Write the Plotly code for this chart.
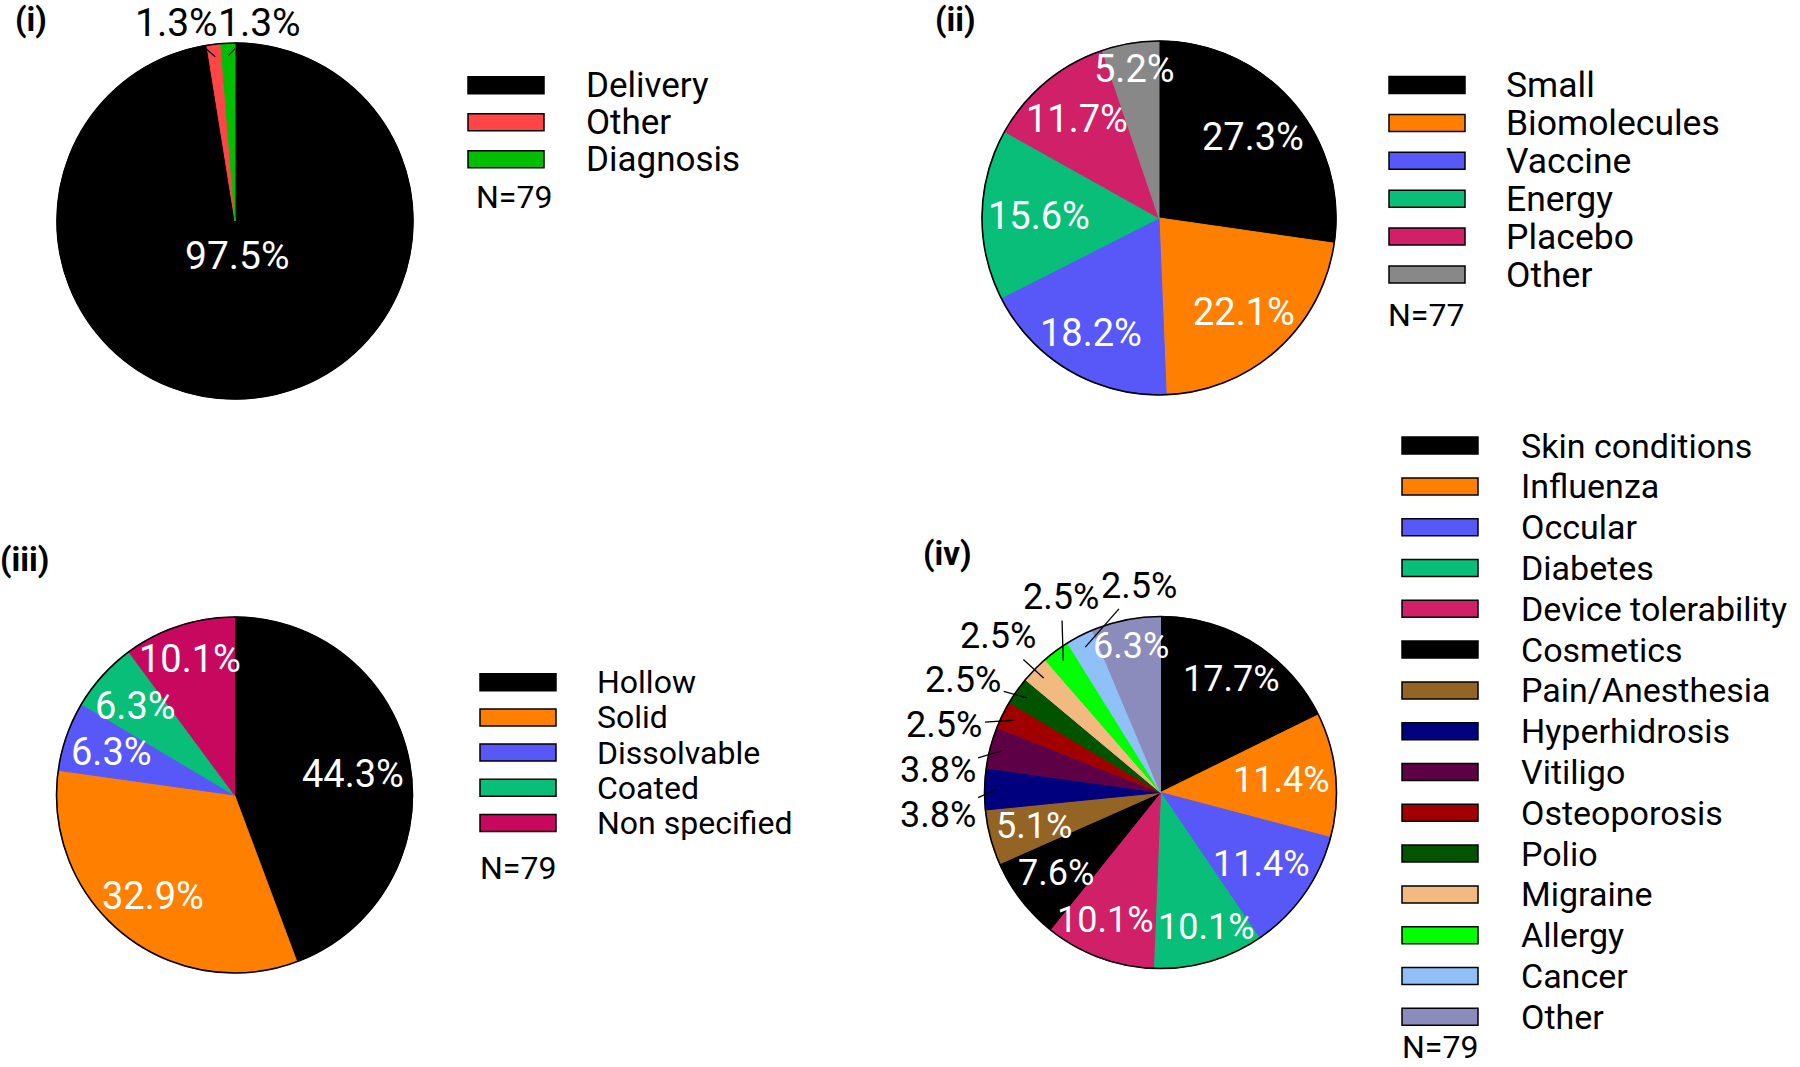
import math
import plotly.graph_objects as go

W, H = 1800, 1067
FONT = "Roboto"

# ---------------- data ----------------
cat_i = ["Delivery", "Other", "Diagnosis"]
val_i = [77, 1, 1]
n_i = "N=79"

cat_ii = ["Small", "Biomolecules", "Vaccine", "Energy", "Placebo", "Other"]
val_ii = [21, 17, 14, 12, 9, 4]
n_ii = "N=77"

cat_iii = ["Hollow", "Solid", "Dissolvable", "Coated", "Non specified"]
val_iii = [35, 26, 5, 5, 8]
n_iii = "N=79"

cat_iv = ["Skin conditions", "Influenza", "Occular", "Diabetes", "Device tolerability",
          "Cosmetics", "Pain/Anesthesia", "Hyperhidrosis", "Vitiligo", "Osteoporosis",
          "Polio", "Migraine", "Allergy", "Cancer", "Other"]
val_iv = [14, 9, 9, 8, 8, 6, 4, 3, 3, 2, 2, 2, 2, 2, 5]
n_iv = "N=79"

# ---------------- styles ----------------
col_i = ["#000000", "#FF4545", "#00BF00"]
col_ii = ["#000000", "#FF8000", "#5858F8", "#08BE78", "#D02068", "#888888"]
col_iii = ["#000000", "#FF8000", "#5858F8", "#08BE78", "#C8085F"]
col_iv = ["#000000", "#FF8000", "#5858F8", "#08BE78", "#D02068", "#000000", "#946424",
          "#00007F", "#5E0045", "#A00000", "#005400", "#F2BA80", "#00FF00", "#90C0F8", "#8C8CBC"]

# label placement: True = outside with leader line
out_i = [False, True, True]
out_ii = [False] * 6
out_iii = [False] * 5
out_iv = [False] * 7 + [True] * 7 + [False]

panels = [
    dict(tag="(i)", cats=cat_i, vals=val_i, cols=col_i, out=out_i, n=n_i,
         cx=235, cy=221, r=178, tagx=13, tagy=20, pfs=39,
         lx=468, ly=85.3, ldy=37, tx=584, fs=35, nx=474, ny=197),
    dict(tag="(ii)", cats=cat_ii, vals=val_ii, cols=col_ii, out=out_ii, n=n_ii,
         cx=1159, cy=218, r=177, tagx=933, tagy=20, pfs=38,
         lx=1389, ly=85, ldy=37.9, tx=1504, fs=35.5, nx=1386, ny=315),
    dict(tag="(iii)", cats=cat_iii, vals=val_iii, cols=col_iii, out=out_iii, n=n_iii,
         cx=234.5, cy=795, r=178, tagx=-2, tagy=559, pfs=38,
         lx=480, ly=682.2, ldy=35.2, tx=595, fs=32, nx=478, ny=868),
    dict(tag="(iv)", cats=cat_iv, vals=val_iv, cols=col_iv, out=out_iv, n=n_iv,
         cx=1160.5, cy=792.5, r=176, tagx=921, tagy=553, pfs=36,
         lx=1402, ly=445.6, ldy=40.8, tx=1519, fs=34, nx=1400, ny=1047),
]

SW_W, SW_H = 76, 17
IN_TARGET = 0.97   # inside labels: far edge of the text box at this fraction of the radius
IN_R_MAJOR = 0.2   # for slices larger than half the pie
ANCHOR_R = 0.93    # start of leader lines
PAD = 8
EM = {"%": 0.732, ".": 0.263}


def px(x):
    return x / W


def py(y):
    return 1 - y / H


def polar(cx, cy, rad, theta_deg):
    t = math.radians(theta_deg)
    return cx + rad * math.sin(t), cy - rad * math.cos(t)


def text_w(s, fs):
    return sum(EM.get(ch, 0.562) for ch in s) * fs


def text_radius(r, theta, w, h):
    t = math.radians(theta)
    return r + PAD + abs(math.sin(t)) * w / 2 + abs(math.cos(t)) * h / 2


def inside_radius(r, theta, w, h):
    t = math.radians(theta)
    return IN_TARGET * r - (abs(math.sin(t)) * w / 2 + abs(math.cos(t)) * h / 2)


def spread(thetas, r, w, h):
    pos = list(thetas)
    for _ in range(5000):
        moved = False
        for k in range(len(pos) - 1):
            m = math.radians((pos[k] + pos[k + 1]) / 2)
            c, s = abs(math.cos(m)), abs(math.sin(m))
            d = min(w / c if c > 1e-6 else 1e9, h / s if s > 1e-6 else 1e9)
            R = text_radius(r, math.degrees(m), w, h)
            need = math.degrees(d / R)
            gap = pos[k + 1] - pos[k]
            if gap < need - 1e-3:
                delta = (need - gap) / 2
                pos[k] -= delta
                pos[k + 1] += delta
                moved = True
        if not moved:
            break
    return pos


fig = go.Figure()
shapes = []
annotations = []

for p in panels:
    cx, cy, r = p["cx"], p["cy"], p["r"]
    dom = dict(x=[px(cx - r), px(cx + r)], y=[py(cy + r), py(cy - r)])
    fig.add_trace(go.Pie(
        labels=p["cats"], values=p["vals"], sort=False, direction="clockwise", rotation=0,
        marker=dict(colors=p["cols"], line=dict(color=p["cols"], width=1)),
        textinfo="none", domain=dom, showlegend=False, automargin=False,
        hovertemplate="%{label}: %{value} (%{percent:.1%})<extra></extra>",
    ))
    fig.add_trace(go.Pie(
        labels=["outline"], values=[1], sort=False,
        marker=dict(colors=["rgba(0,0,0,0)"], line=dict(color="black", width=1.6)),
        textinfo="none", domain=dom, showlegend=False, hoverinfo="skip", automargin=False,
    ))

    # ----- percentage labels, placed from the slice angles -----
    total = float(sum(p["vals"]))
    cum = 0.0
    mids, fracs = [], []
    for v in p["vals"]:
        fracs.append(v / total)
        mids.append(360.0 * (cum + v / 2.0) / total)
        cum += v
    fsz = p["pfs"]
    labels = ["%.1f%%" % (100 * f) for f in fracs]

    # inside labels
    in_idx = [k for k, o in enumerate(p["out"]) if not o]
    ang = {k: mids[k] for k in in_idx}
    hh = 0.75 * fsz

    def in_pos(k):
        if fracs[k] > 0.5:
            return polar(cx, cy, IN_R_MAJOR * r, ang[k])
        return polar(cx, cy, inside_radius(r, ang[k], text_w(labels[k], fsz), hh), ang[k])

    for _ in range(400):
        moved = False
        for a, b in zip(in_idx[:-1], in_idx[1:]):
            (xa, ya), (xb, yb) = in_pos(a), in_pos(b)
            need_x = (text_w(labels[a], fsz) + text_w(labels[b], fsz)) / 2 + 4
            if abs(xa - xb) < need_x and abs(ya - yb) < hh + 4:
                ang[a] -= 0.25
                ang[b] += 0.25
                moved = True
        if not moved:
            break
    for k in in_idx:
        x, y = in_pos(k)
        annotations.append(dict(text=labels[k], x=px(x), y=py(y), xref="paper", yref="paper",
                                showarrow=False, xanchor="center", yanchor="middle",
                                font=dict(family=FONT, size=fsz, color="white")))

    # outside labels with leader lines
    out_idx = [k for k, o in enumerate(p["out"]) if o]
    lw, lh = 2.12 * fsz, 1.25 * fsz
    spread_t = spread([mids[k] for k in out_idx], r, lw, lh) if out_idx else []
    for k, t in zip(out_idx, spread_t):
        ax_, ay_ = polar(cx, cy, ANCHOR_R * r, mids[k])
        tx_, ty_ = polar(cx, cy, text_radius(r, t, lw, 1.12 * fsz), t)
        ty_ = max(ty_, 0.6 * fsz)
        annotations.append(dict(text=labels[k], x=px(ax_), y=py(ay_), xref="paper", yref="paper",
                                showarrow=True, arrowhead=0, arrowwidth=1.3, arrowcolor="black",
                                ax=tx_ - ax_, ay=ty_ - ay_, standoff=0, startstandoff=1,
                                font=dict(family=FONT, size=fsz, color="black")))

    # ----- panel tag -----
    annotations.append(dict(text="<b>%s</b>" % p["tag"], x=px(p["tagx"]), y=py(p["tagy"]),
                            xref="paper", yref="paper", xanchor="left", yanchor="middle",
                            showarrow=False, font=dict(family=FONT, size=33, color="black")))
    # ----- legend -----
    for k, (name, c) in enumerate(zip(p["cats"], p["cols"])):
        yc = p["ly"] + k * p["ldy"]
        shapes.append(dict(type="rect", xref="paper", yref="paper",
                           x0=px(p["lx"]), x1=px(p["lx"] + SW_W),
                           y0=py(yc + SW_H / 2), y1=py(yc - SW_H / 2),
                           fillcolor=c, line=dict(color="black", width=1.5)))
        annotations.append(dict(text=name, x=px(p["tx"]), y=py(yc), xref="paper", yref="paper",
                                xanchor="left", yanchor="middle", showarrow=False,
                                font=dict(family=FONT, size=p["fs"], color="black")))
    annotations.append(dict(text=p["n"], x=px(p["nx"]), y=py(p["ny"]), xref="paper", yref="paper",
                            xanchor="left", yanchor="middle", showarrow=False,
                            font=dict(family=FONT, size=32, color="black")))

fig.update_layout(
    width=W, height=H, margin=dict(l=0, r=0, t=0, b=0, pad=0, autoexpand=False),
    paper_bgcolor="white", plot_bgcolor="white", showlegend=False,
    shapes=shapes, annotations=annotations,
    font=dict(family=FONT, color="black"),
)

fig.write_html("out.html", config={"displayModeBar": False},
               post_script="document.body.style.margin='0';"
                           "document.documentElement.style.overflow='hidden';")
